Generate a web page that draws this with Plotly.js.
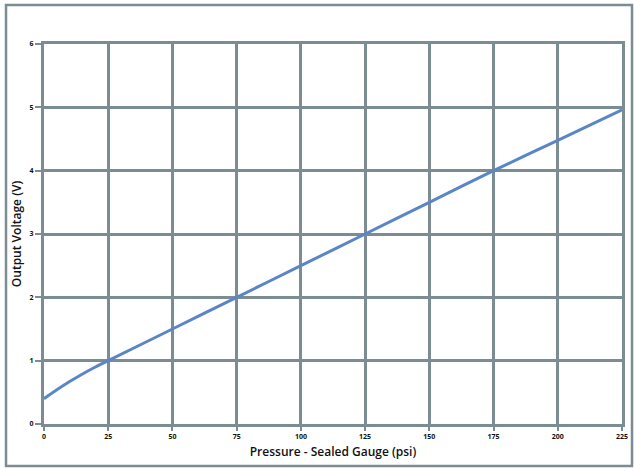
<!DOCTYPE html>
<html>
<head>
<meta charset="utf-8">
<script src="https://cdn.plot.ly/plotly-3.0.1.min.js"></script>
<style>html,body{margin:0;padding:0;background:#fff;}#chart{width:634px;height:468px;}</style>
</head>
<body>
<div id="chart"></div>
<script>
const pressure = [0, 5, 10, 15, 20, 25, 50, 75, 100, 125, 150, 175, 200, 225];
const voltage  = [0.4, 0.54, 0.67, 0.79, 0.9, 1.0, 1.5, 2.0, 2.5, 3.0, 3.5, 4.0, 4.48, 4.96];
const xTicks = [0, 25, 50, 75, 100, 125, 150, 175, 200, 225];
const yTicks = [0, 1, 2, 3, 4, 5, 6];

const gridColor = '#7b8c93';
const W = 634, H = 468, L = 44, R = 12, T = 44, B = 44;
const pw = W - L - R, ph = H - T - B;
const px = v => (v - L) / pw;
const py = v => (H - B - v) / ph;

Plotly.newPlot('chart', [{
  x: pressure, y: voltage, type: 'scatter', mode: 'lines',
  line: {color: '#5a86c8', width: 3, shape: 'spline', smoothing: 0.6},
  hoverinfo: 'skip'
}], {
  width: W, height: H,
  margin: {l: L, r: R, t: T, b: B},
  paper_bgcolor: '#fff', plot_bgcolor: '#fff',
  showlegend: false,
  font: {family: 'Open Sans, DejaVu Sans, sans-serif', color: '#111'},
  xaxis: {
    range: [0, 225], tickvals: xTicks, ticktext: xTicks.map(String),
    showgrid: true, gridcolor: gridColor, gridwidth: 3,
    showline: true, linecolor: gridColor, linewidth: 3, mirror: true,
    zeroline: false, ticks: 'outside', ticklen: 4, tickwidth: 2, tickcolor: gridColor,
    tickfont: {size: 7, weight: 700, color: '#111'},
    title: {text: 'Pressure - Sealed Gauge (psi)', font: {size: 12, weight: 600, color: '#111'}, standoff: 8}
  },
  yaxis: {
    range: [0, 6], tickvals: yTicks, ticktext: yTicks.map(String),
    showgrid: true, gridcolor: gridColor, gridwidth: 3,
    showline: true, linecolor: gridColor, linewidth: 3, mirror: true,
    zeroline: false, ticks: 'outside', ticklen: 6, tickwidth: 2, tickcolor: gridColor,
    tickfont: {size: 7, weight: 700, color: '#111'},
    title: {text: 'Output Voltage (V)', font: {size: 12, weight: 600, color: '#111'}, standoff: 6}
  },
  shapes: [{
    type: 'rect', xref: 'paper', yref: 'paper',
    x0: px(6), x1: px(632), y0: py(466), y1: py(5),
    line: {color: gridColor, width: 2.5}, fillcolor: 'rgba(0,0,0,0)', layer: 'below'
  }]
}, {staticPlot: true, displayModeBar: false});
</script>
</body>
</html>
